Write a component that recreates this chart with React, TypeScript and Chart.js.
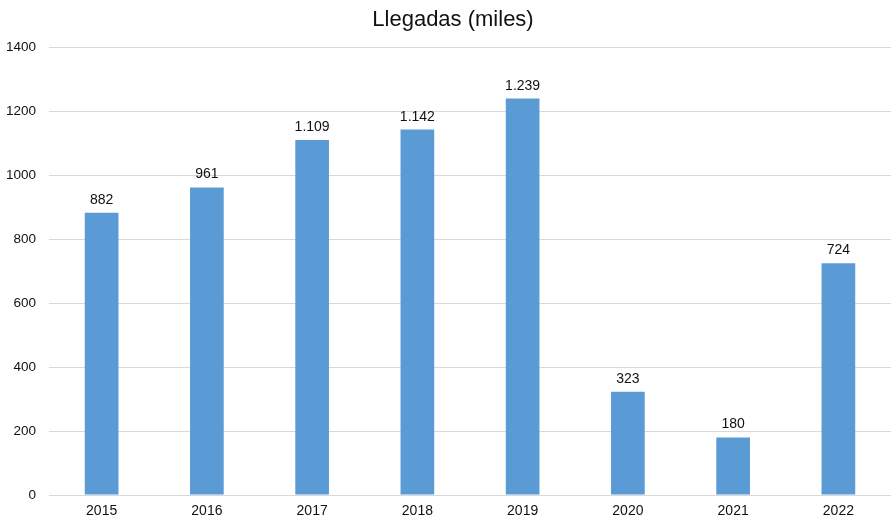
import React, { useEffect, useRef } from "react";
import { Chart, registerables } from "chart.js";

Chart.register(...registerables);

const TITLE = "Llegadas (miles)";
const years = ["2015", "2016", "2017", "2018", "2019", "2020", "2021", "2022"];
const arrivals = [882, 961, 1109, 1142, 1239, 323, 180, 724];
const yTicks = [0, 200, 400, 600, 800, 1000, 1200, 1400];

const FONT = "'Liberation Sans', Arial, sans-serif";

function fmt(v: number): string {
  return String(Math.round(v)).replace(/\B(?=(\d{3})+(?!\d))/g, ".");
}

const labelPlugin = {
  id: "barLabels",
  afterDatasetsDraw(chart: any) {
    const ctx = chart.ctx;
    const meta = chart.getDatasetMeta(0);
    ctx.save();
    ctx.font = `14px ${FONT}`;
    ctx.fillStyle = "#111";
    ctx.textAlign = "center";
    ctx.textBaseline = "alphabetic";
    meta.data.forEach((bar: any, i: number) => {
      ctx.fillText(fmt(arrivals[i]), bar.x, bar.y - 9);
    });
    ctx.restore();
  },
};

const titlePlugin = {
  id: "customTitle",
  afterDraw(chart: any) {
    const ctx = chart.ctx;
    ctx.save();
    ctx.font = `22px ${FONT}`;
    ctx.fillStyle = "#111";
    ctx.textAlign = "center";
    ctx.textBaseline = "alphabetic";
    ctx.fillText(TITLE, 453, 26);
    ctx.restore();
  },
};

export default function App() {
  const ref = useRef<HTMLCanvasElement | null>(null);
  useEffect(() => {
    document.body.style.margin = "0";
    if (!ref.current) return;
    const chart = new Chart(ref.current, {
      type: "bar",
      data: {
        labels: years,
        datasets: [
          {
            data: arrivals,
            backgroundColor: "#5B9BD5",
            barPercentage: 0.32,
            categoryPercentage: 1,
          },
        ],
      },
      options: {
        animation: false,
        responsive: false,
        maintainAspectRatio: false,
        layout: { padding: { top: 47, right: 0, left: 0, bottom: 0 } },
        plugins: {
          legend: { display: false },
          title: { display: false },
          tooltip: { enabled: false },
        },
        scales: {
          x: {
            grid: { display: false, drawTicks: false },
            border: { display: false },
            ticks: {
              color: "#111",
              font: { family: FONT, size: 14 },
              padding: 8,
            },
            afterFit: (s: any) => {
              s.height = 25;
            },
          },
          y: {
            min: 0,
            max: 1400,
            afterBuildTicks: (s: any) => {
              s.ticks = yTicks.map((v) => ({ value: v }));
            },
            grid: { color: "#d9d9d9", drawTicks: false, lineWidth: 1 },
            border: { display: false },
            ticks: {
              color: "#111",
              font: { family: FONT, size: 13.5 },
              padding: 13,
              callback: (v: any) => String(v),
            },
            afterFit: (s: any) => {
              s.width = 49;
            },
          },
        },
      },
      plugins: [labelPlugin, titlePlugin],
    });
    return () => chart.destroy();
  }, []);
  return (
    <div style={{ position: "fixed", left: 0, top: 0, width: 891, height: 520, background: "#fff" }}>
      <canvas ref={ref} width={891} height={520} style={{ width: 891, height: 520 }} />
    </div>
  );
}
